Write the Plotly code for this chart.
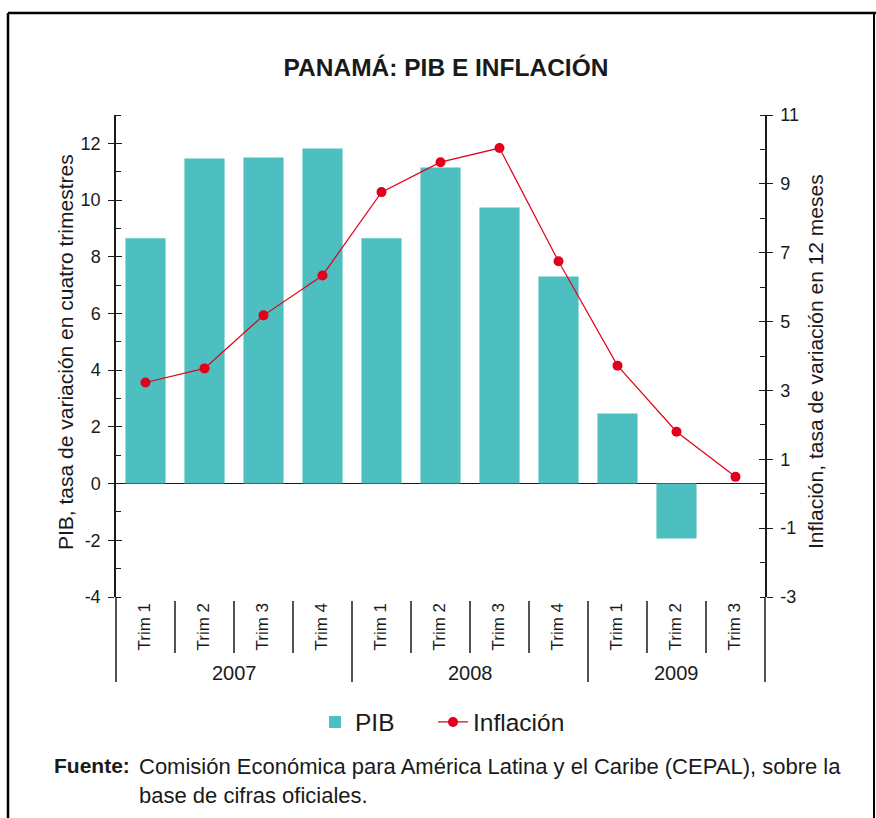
import plotly.graph_objects as go

# ---- data ----
quarter_labels = ["Trim 1", "Trim 2", "Trim 3", "Trim 4",
                  "Trim 1", "Trim 2", "Trim 3", "Trim 4",
                  "Trim 1", "Trim 2", "Trim 3"]
quarter_years = ["2007", "2007", "2007", "2007",
                 "2008", "2008", "2008", "2008",
                 "2009", "2009", "2009"]
years = ["2007", "2008", "2009"]
pib = [8.65, 11.47, 11.5, 11.82, 8.65, 11.15, 9.74, 7.3, 2.47, -1.94, None]
inflacion = [3.23, 3.64, 5.18, 6.34, 8.76, 9.63, 10.04, 6.75, 3.72, 1.8, 0.49]

left_ticks = [-4, -2, 0, 2, 4, 6, 8, 10, 12]
left_ticktext = ["-4", "-2", "0", "2", "4", "6", "8", "10", "12"]
right_ticks = [-3, -1, 1, 3, 5, 7, 9, 11]
right_ticktext = ["-3", "-1", "1", "3", "5", "7", "9", "11"]

title_text = "PANAMÁ: PIB E INFLACIÓN"
left_title = "PIB, tasa de variación en cuatro trimestres"
right_title = "Inflación, tasa de variación en 12 meses"
source_label = "Fuente:"
source_text = "Comisión Económica para América Latina y el Caribe (CEPAL), sobre la<br>base de cifras oficiales."

# ---- style ----
FONT = "Liberation Sans, Arial, Helvetica, sans-serif"
INK = "#1a1a1a"
TEAL = "#4DBFC0"
RED = "#E3001B"

W, H = 876, 818
L, R, T, B = 116, 111, 115, 221
PW, PH = W - L - R, H - T - B


def px_x(px):
    return (px - L) / PW


def px_y(py):
    return (H - B - py) / PH


idx = list(range(len(quarter_labels)))

fig = go.Figure()
fig.add_trace(go.Bar(x=idx, y=pib, name="PIB", marker=dict(color=TEAL, line=dict(width=0)),
                     yaxis="y", legend="legend"))
fig.add_trace(go.Scatter(x=idx, y=inflacion, name="Inflación", mode="lines+markers",
                         line=dict(color=RED, width=1.2),
                         marker=dict(color=RED, size=10), yaxis="y2", legend="legend2"))

axis_common = dict(showgrid=False, linecolor=INK, linewidth=1.5, tickcolor=INK,
                   tickwidth=1.3, tickfont=dict(size=18, color=INK, family=FONT))

legend_common = dict(orientation="h", xanchor="left", y=px_y(722), yanchor="middle",
                     font=dict(size=24.5, color=INK, family=FONT), itemwidth=30,
                     bgcolor="rgba(0,0,0,0)")

fig.update_layout(
    width=W, height=H,
    margin=dict(l=L, r=R, t=T, b=B),
    paper_bgcolor="white", plot_bgcolor="white",
    font=dict(family=FONT, color=INK),
    bargap=0.32,
    showlegend=True,
    legend=dict(x=px_x(315), **legend_common),
    legend2=dict(x=px_x(433), **legend_common),
    title=dict(text="<b>" + title_text + "</b>", x=446 / W, xref="container", xanchor="center",
               y=1 - 67 / H, yref="container", yanchor="middle",
               font=dict(size=24.5, color=INK, family=FONT)),
    xaxis=dict(range=[-0.5, len(idx) - 0.5], showticklabels=False, ticks="", showline=False,
               showgrid=False, zeroline=False),
    yaxis=dict(range=[-4, 13], tickvals=left_ticks, ticktext=left_ticktext, ticks="outside",
               ticklen=6, showline=True, zeroline=True, zerolinecolor=INK, zerolinewidth=1.3,
               minor=dict(ticks="inside", dtick=1, tick0=0, ticklen=5, tickcolor=INK, tickwidth=1.3),
               ticklabelstandoff=4, **axis_common),
    yaxis2=dict(range=[-3, 11], tickvals=right_ticks, ticktext=right_ticktext, ticks="outside",
                ticklen=6, side="right", overlaying="y", showline=True, zeroline=False,
                minor=dict(ticks="inside", dtick=1, tick0=-3, ticklen=5, tickcolor=INK, tickwidth=1.3),
                ticklabelstandoff=4, **axis_common),
    yaxis3=dict(range=[-4, 13], tickvals=left_ticks, ticks="inside", ticklen=6, overlaying="y",
                side="left", showticklabels=False, showline=False, zeroline=False, showgrid=False,
                tickcolor=INK, tickwidth=1.3),
    yaxis4=dict(range=[-3, 11], tickvals=right_ticks, ticks="inside", ticklen=6, overlaying="y",
                side="right", showticklabels=False, showline=False, zeroline=False, showgrid=False,
                tickcolor=INK, tickwidth=1.3),
)

# invisible traces to activate overlay axes for crossing major ticks
fig.add_trace(go.Scatter(x=[idx[0]], y=[left_ticks[0]], yaxis="y3", mode="markers",
                         marker=dict(opacity=0), showlegend=False, hoverinfo="skip"))
fig.add_trace(go.Scatter(x=[idx[0]], y=[right_ticks[0]], yaxis="y4", mode="markers",
                         marker=dict(opacity=0), showlegend=False, hoverinfo="skip"))

shapes = []
# axis line extensions below plot
for xp in (0, 1):
    shapes.append(dict(type="line", xref="paper", yref="paper", x0=xp, x1=xp,
                       y0=0, y1=px_y(682), line=dict(color=INK, width=1.5)))
# category separators
for k in range(len(idx) - 1):
    new_year = quarter_years[k] != quarter_years[k + 1]
    shapes.append(dict(type="line", xref="x", yref="paper", x0=k + 0.5, x1=k + 0.5,
                       y0=px_y(601), y1=px_y(682 if new_year else 653),
                       line=dict(color=INK, width=1.5)))
# outer frame
shapes.append(dict(type="line", xref="paper", yref="paper", x0=px_x(8), x1=px_x(8),
                   y0=px_y(13), y1=px_y(H + 5), line=dict(color="black", width=2.5)))
shapes.append(dict(type="line", xref="paper", yref="paper", x0=px_x(8), x1=px_x(W + 5),
                   y0=px_y(13), y1=px_y(13), line=dict(color="black", width=2.5)))
shapes.append(dict(type="line", xref="paper", yref="paper", x0=px_x(874), x1=px_x(874),
                   y0=px_y(13), y1=px_y(H + 5), line=dict(color="black", width=2)))
fig.update_layout(shapes=shapes)

ann = []
for i, q in zip(idx, quarter_labels):
    ann.append(dict(text=q, x=i, xref="x", y=px_y(627), yref="paper", textangle=-90,
                    showarrow=False, xanchor="center", yanchor="middle", xshift=-2,
                    font=dict(size=17, color=INK, family=FONT)))
for y in years:
    pos = [i for i in idx if quarter_years[i] == y]
    ann.append(dict(text=y, x=sum(pos) / len(pos), xref="x", y=px_y(673), yref="paper",
                    showarrow=False, xanchor="center", yanchor="middle",
                    font=dict(size=20, color=INK, family=FONT)))
ann.append(dict(text=left_title, x=px_x(65), xref="paper", y=px_y(352), yref="paper",
                textangle=-90, showarrow=False, xanchor="center", yanchor="middle",
                font=dict(size=21, color=INK, family=FONT)))
ann.append(dict(text=right_title, x=px_x(815), xref="paper", y=px_y(362), yref="paper",
                textangle=-90, showarrow=False, xanchor="center", yanchor="middle",
                font=dict(size=21, color=INK, family=FONT)))
ann.append(dict(text="<b>" + source_label + "</b>", x=px_x(52), xref="paper", y=px_y(765),
                yref="paper", showarrow=False, xanchor="left", yanchor="middle",
                font=dict(size=21, color=INK, family=FONT)))
ann.append(dict(text=source_text, x=px_x(137), xref="paper", y=px_y(752), yref="paper",
                showarrow=False, xanchor="left", yanchor="top", align="left",
                font=dict(size=22, color=INK, family=FONT)))
fig.update_layout(annotations=ann)

fig.write_html("out.html", config={"displayModeBar": False},
               post_script="document.body.style.margin='0';")
